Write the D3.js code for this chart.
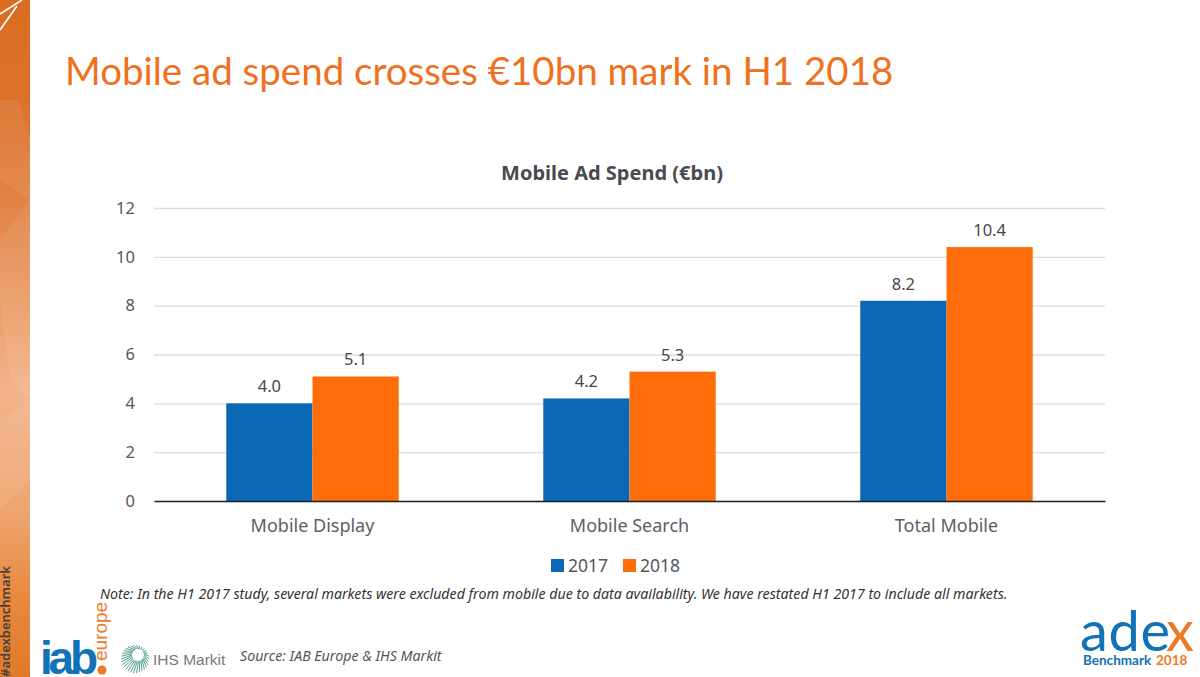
<!DOCTYPE html>
<html>
<head>
<meta charset="utf-8">
<script src="https://cdn.jsdelivr.net/npm/d3@7"></script>
<style>
  html, body { margin: 0; padding: 0; background: #fff; overflow: hidden; }
  text { font-family: "Noto Sans", "Open Sans", sans-serif; }
</style>
</head>
<body>
<svg width="1200" height="677"></svg>
<script>
const width = 1200;
const height = 677;

const categories = ["Mobile Display", "Mobile Search", "Total Mobile"];
const seriesNames = ["2017", "2018"];
const values2017 = [4.0, 4.2, 8.2];
const values2018 = [5.1, 5.3, 10.4];
const yTicks = [0, 2, 4, 6, 8, 10, 12];
const seriesColors = ["#0a68b4", "#ff6c0a"];

const svg = d3.select("svg").attr("viewBox", [0, 0, width, height]);

// left decorative strip
const defs = svg.append("defs");
const grad = defs.append("linearGradient")
  .attr("id", "strip").attr("x1", 0).attr("x2", 0).attr("y1", 0).attr("y2", 1);
[[0, "#d96c20"], [0.2, "#dd7530"], [0.38, "#e69058"], [0.58, "#f2b48a"], [0.76, "#eda470"], [0.88, "#e8893f"], [1, "#e07a2a"]]
  .forEach(d => grad.append("stop").attr("offset", d[0]).attr("stop-color", d[1]));

svg.append("rect").attr("width", 30).attr("height", height).attr("fill", "url(#strip)");

const facets = [
  "0,100 18,100 30,135 30,200 0,180",
  "0,240 30,200 30,290 0,300",
  "0,300 30,290 30,400 10,380",
  "0,420 30,400 30,480 0,510"
];
svg.append("g").selectAll("polygon").data(facets).join("polygon")
  .attr("points", d => d).attr("fill", "#fff").attr("fill-opacity", 0.07);

svg.append("path")
  .attr("d", "M0,14 L22,0 M0,30 L17,6")
  .attr("stroke", "#fff").attr("stroke-width", 1.6).attr("fill", "none");

svg.append("text")
  .attr("transform", "translate(6,677) rotate(-90)")
  .attr("font-size", 13).attr("font-weight", 600).attr("fill", "#4a3f38")
  .attr("dominant-baseline", "middle")
  .text("#adexbenchmark");

// slide title
svg.append("text")
  .attr("x", 65).attr("y", 85)
  .attr("font-size", 38.5).attr("fill", "#f0701e")
  .style("font-family", "Lato, sans-serif")
  .text("Mobile ad spend crosses €10bn mark in H1 2018");

// chart
const plot = { left: 154, right: 1105, top: 208, bottom: 501 };

const x0 = d3.scaleBand().domain(categories).range([plot.left, plot.right]);
const x1 = d3.scaleBand().domain(seriesNames)
  .range([x0.bandwidth() * 0.228, x0.bandwidth() * 0.772]);
const y = d3.scaleLinear().domain([0, 12]).range([plot.bottom, plot.top]);

svg.append("text")
  .attr("x", 612).attr("y", 180).attr("text-anchor", "middle")
  .attr("font-size", 20).attr("font-weight", 700).attr("fill", "#4a4a50")
  .text("Mobile Ad Spend (€bn)");

const yAxis = svg.append("g")
  .attr("transform", `translate(${plot.left},0)`)
  .call(d3.axisLeft(y).tickValues(yTicks).tickSize(-(plot.right - plot.left)).tickPadding(19));
yAxis.select(".domain").remove();
yAxis.selectAll("line").attr("stroke", "#dcdcdc").attr("stroke-width", 1.3);
yAxis.selectAll("text").attr("font-size", 16.5).attr("fill", "#55565c")
  .style("font-family", "'Noto Sans', sans-serif");

const rows = categories.map((c, i) => ({ c, vals: [values2017[i], values2018[i]] }));

const groups = svg.append("g").selectAll("g").data(rows).join("g")
  .attr("transform", d => `translate(${x0(d.c)},0)`);

groups.selectAll("rect")
  .data(d => d.vals.map((v, i) => ({ v, s: seriesNames[i], i })))
  .join("rect")
  .attr("x", d => x1(d.s))
  .attr("width", x1.bandwidth())
  .attr("y", d => y(d.v))
  .attr("height", d => y(0) - y(d.v))
  .attr("fill", d => seriesColors[d.i]);

groups.selectAll("text")
  .data(d => d.vals.map((v, i) => ({ v, s: seriesNames[i] })))
  .join("text")
  .attr("x", d => x1(d.s) + x1.bandwidth() / 2)
  .attr("y", d => y(d.v) - 11)
  .attr("text-anchor", "middle")
  .attr("font-size", 16.5).attr("fill", "#46464c")
  .text(d => d.v.toFixed(1));

const xAxis = svg.append("g")
  .attr("transform", `translate(0,${plot.bottom})`)
  .call(d3.axisBottom(x0).tickSize(0).tickPadding(18));
xAxis.select(".domain").attr("stroke", "#222").attr("stroke-width", 1.6);
xAxis.selectAll("text").attr("font-size", 18).attr("fill", "#5c5e68")
  .style("font-family", "'Noto Sans', sans-serif");

// legend
const legend = svg.append("g").selectAll("g").data(seriesNames).join("g")
  .attr("transform", (d, i) => `translate(${551 + i * 72},559)`);
legend.append("rect").attr("width", 13).attr("height", 13).attr("fill", (d, i) => seriesColors[i]);
legend.append("text").attr("x", 17).attr("y", 13).attr("font-size", 17.5).attr("fill", "#55565c").text(d => d);

// note and source
svg.append("text")
  .attr("x", 100).attr("y", 599)
  .attr("font-size", 14.2).attr("font-style", "italic").attr("fill", "#333")
  .text("Note:  In the H1 2017 study, several markets were excluded from mobile due to data availability. We have restated H1 2017 to include all markets.");

svg.append("text")
  .attr("x", 240).attr("y", 661)
  .attr("font-size", 14.2).attr("font-style", "italic").attr("fill", "#555")
  .text("Source: IAB Europe & IHS Markit");

// iab logo
svg.append("text")
  .attr("x", 40).attr("y", 674)
  .attr("font-size", 46).attr("font-weight", 800).attr("fill", "#1272b8")
  .attr("textLength", 58)
  .style("font-family", "'Liberation Sans', sans-serif")
  .text("iab");
svg.append("circle").attr("cx", 102).attr("cy", 670).attr("r", 4.5).attr("fill", "#ec7a24");
svg.append("text")
  .attr("transform", "translate(107,661) rotate(-90)")
  .attr("font-size", 19).attr("fill", "#ec7a24")
  .style("font-family", "'Liberation Sans', sans-serif")
  .text("europe");

// IHS Markit logo
const ihsAngles = d3.range(0, 360, 12);
svg.append("g").attr("transform", "translate(135,659)")
  .selectAll("line").data(ihsAngles).join("line")
  .attr("x1", d => 6 * Math.cos(d * Math.PI / 180) + 3)
  .attr("y1", d => 6 * Math.sin(d * Math.PI / 180) - 4)
  .attr("x2", d => 14 * Math.cos(d * Math.PI / 180))
  .attr("y2", d => 14 * Math.sin(d * Math.PI / 180))
  .attr("stroke", "#4f9e94").attr("stroke-width", 1);
svg.append("text")
  .attr("x", 153).attr("y", 665)
  .attr("font-size", 15.5).attr("fill", "#77797c")
  .style("font-family", "'Liberation Sans', sans-serif")
  .text("IHS Markit");

// adex logo
svg.append("text")
  .attr("x", 1080).attr("y", 651)
  .attr("font-size", 56).attr("fill", "#1272b8")
  .attr("textLength", 90)
  .style("font-family", "Lato, sans-serif")
  .text("ade");
svg.append("text")
  .attr("x", 1166).attr("y", 651)
  .attr("font-size", 56).attr("fill", "#ec7a24")
  .style("font-family", "Lato, sans-serif")
  .text("x");
svg.append("text")
  .attr("x", 1083).attr("y", 665)
  .attr("font-size", 13.5).attr("font-weight", 700).attr("fill", "#1272b8")
  .style("font-family", "Lato, sans-serif")
  .text("Benchmark");
svg.append("text")
  .attr("x", 1156).attr("y", 665)
  .attr("font-size", 13.5).attr("font-weight", 700).attr("fill", "#ec7a24")
  .style("font-family", "Lato, sans-serif")
  .text("2018");
</script>
</body>
</html>
